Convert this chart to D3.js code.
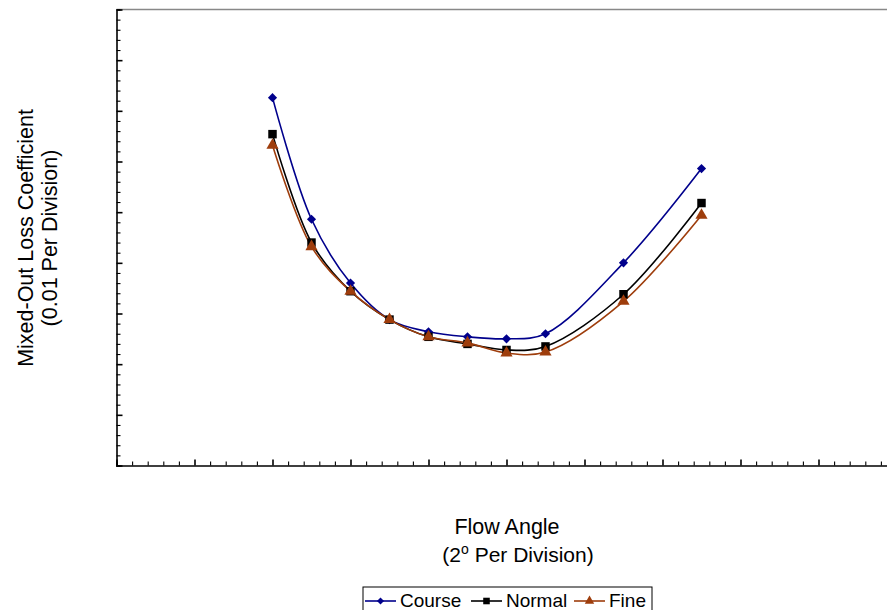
<!DOCTYPE html>
<html>
<head>
<meta charset="utf-8">
<script src="https://cdn.jsdelivr.net/npm/d3@7"></script>
<style>
  body { margin: 0; background: #fff; }
  svg { display: block; font-family: "Liberation Sans", Arial, sans-serif; }
</style>
</head>
<body>
<svg id="chart" width="887" height="610"></svg>
<script>
//
// Data (x in degrees, y in 0.01 divisions)
//
const angles = [20, 25, 30, 35, 40, 45, 50, 55, 65, 75];
const course = [36.3, 24.3, 18.0, 14.4, 13.2, 12.7, 12.5, 13.0, 20.0, 29.3];
const normal = [32.7, 22.0, 17.2, 14.4, 12.7, 12.0, 11.4, 11.75, 16.9, 25.9];
const fine = [31.6, 21.6, 17.2, 14.4, 12.7, 12.1, 11.1, 11.2, 16.2, 24.7];
const seriesNames = ["Course", "Normal", "Fine"];

//
// Layout
//
const svg = d3.select("#chart");
const plotLeft = 116.5, plotTop = 9.5, plotBottom = 465.5;
const x = d3.scaleLinear().domain([0, 100]).range([plotLeft, plotLeft + 780]);
const y = d3.scaleLinear().domain([0, 45]).range([plotBottom, plotTop]);

const colors = { Course: "#00008c", Normal: "#000000", Fine: "#9e3d0c" };
const values = { Course: course, Normal: normal, Fine: fine };

// top border
svg.append("line")
  .attr("x1", plotLeft).attr("x2", 887).attr("y1", plotTop).attr("y2", plotTop)
  .attr("stroke", "#888").attr("stroke-width", 1.5);

// axes with minor ticks drawn inward
function tickWeights(g, isMajor) {
  g.selectAll(".tick line").attr("stroke", "#000")
    .attr("stroke-width", d => isMajor(d) ? 1.6 : 1.1);
}

const xAxis = d3.axisBottom(x).tickValues(d3.range(0, 101, 2))
  .tickSize(-4).tickFormat("");
svg.append("g").attr("transform", `translate(0,${plotBottom})`).call(xAxis)
  .call(g => g.select(".domain").attr("stroke-width", 1.6))
  .call(g => g.selectAll(".tick line")
    .attr("y2", d => d % 10 === 0 ? -6 : -4))
  .call(g => tickWeights(g, d => d % 10 === 0));

const yAxis = d3.axisLeft(y).tickValues(d3.range(0, 46, 1))
  .tickSize(-4).tickFormat("");
svg.append("g").attr("transform", `translate(${plotLeft},0)`).call(yAxis)
  .call(g => g.select(".domain").attr("stroke-width", 1.6))
  .call(g => g.selectAll(".tick line")
    .attr("x2", d => d % 5 === 0 ? 6 : 4))
  .call(g => tickWeights(g, d => d % 5 === 0));

// lines
const line = d3.line()
  .x((d, i) => x(angles[i]))
  .y(d => y(d))
  .curve(d3.curveCatmullRom.alpha(0.5));

const symbols = { Course: d3.symbolSquare, Normal: d3.symbolSquare, Fine: d3.symbolTriangle };
const symSize = { Course: 42, Normal: 72, Fine: 64 };
const symRotate = { Course: 45, Normal: 0, Fine: 0 };

seriesNames.forEach(name => {
  svg.append("path")
    .attr("d", line(values[name]))
    .attr("fill", "none")
    .attr("stroke", colors[name])
    .attr("stroke-width", 1.6);
});

seriesNames.forEach(name => {
  svg.append("g").selectAll("path")
    .data(values[name])
    .join("path")
    .attr("transform", (d, i) =>
      `translate(${x(angles[i])},${y(d)}) rotate(${symRotate[name]})`)
    .attr("d", d3.symbol(symbols[name], symSize[name]))
    .attr("fill", colors[name]);
});

// axis titles
svg.append("text").attr("x", 507).attr("y", 534)
  .attr("text-anchor", "middle").attr("font-size", 21.5).text("Flow Angle");
const t2 = svg.append("text").attr("x", 518).attr("y", 562)
  .attr("text-anchor", "middle").attr("font-size", 21);
t2.append("tspan").text("(2");
t2.append("tspan").attr("dy", -8).attr("font-size", 14).text("o");
t2.append("tspan").attr("dy", 8).text(" Per Division)");

svg.append("text")
  .attr("transform", "translate(33,238) rotate(-90)")
  .attr("text-anchor", "middle").attr("font-size", 21.5)
  .text("Mixed-Out Loss Coefficient");
svg.append("text")
  .attr("transform", "translate(57,238) rotate(-90)")
  .attr("text-anchor", "middle").attr("font-size", 21.5)
  .text("(0.01 Per Division)");

// legend
const legend = svg.append("g");
legend.append("rect")
  .attr("x", 363).attr("y", 587).attr("width", 289).attr("height", 30)
  .attr("fill", "#fff").attr("stroke", "#000").attr("stroke-width", 1);

const legendX = { Course: 365, Normal: 471, Fine: 574 };
seriesNames.forEach(name => {
  const x0 = legendX[name];
  legend.append("line")
    .attr("x1", x0).attr("x2", x0 + 31).attr("y1", 601).attr("y2", 601)
    .attr("stroke", colors[name]).attr("stroke-width", 1.6);
  legend.append("path")
    .attr("transform", `translate(${x0 + 15.5},601) rotate(${symRotate[name]})`)
    .attr("d", d3.symbol(symbols[name], symSize[name] * 0.6))
    .attr("fill", colors[name]);
  legend.append("text")
    .attr("x", x0 + 35).attr("y", 607).attr("font-size", 19)
    .text(name);
});
</script>
</body>
</html>
